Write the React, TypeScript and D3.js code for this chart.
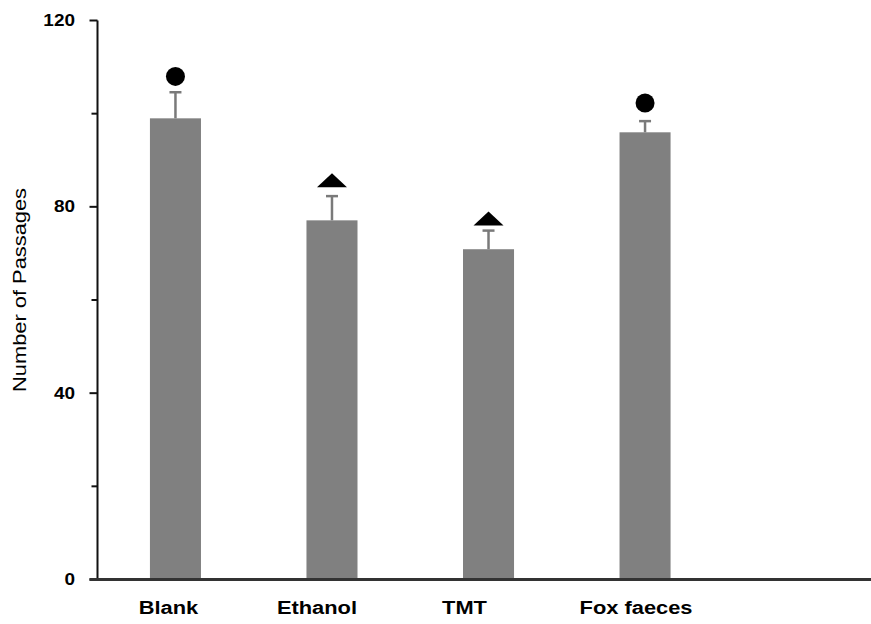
import React from "react";
import * as d3 from "d3";

const categories = ["Blank", "Ethanol", "TMT", "Fox faeces"];
const means = [99.0, 77.1, 70.9, 96.0];
const errors = [5.6, 5.2, 4.0, 2.4];
const markerTypes = ["circle", "triangle", "triangle", "circle"];
const markerValues = [108.0, 84.2, 76.0, 102.3];
const majorTicks = [0, 40, 80, 120];
const minorTicks = [20, 60, 100];

const W = 871;
const H = 624;
const FONT = "'Liberation Sans', Arial, sans-serif";
const STRETCH = 1.15;
const labelShift = [-7, -15, -24, -9];

export default function App() {
  const x = d3
    .scaleBand<string>()
    .domain(categories)
    .range([97.5, 723])
    .paddingInner(0.674)
    .paddingOuter(0.335);
  const y = d3.scaleLinear().domain([0, 120]).range([579.5, 20.5]);
  const axisX = 97.5;
  const bw = x.bandwidth();

  return (
    <svg
      width={W}
      height={H}
      style={{ position: "absolute", left: 0, top: 0, background: "#fff" }}
    >
      {/* bars */}
      {categories.map((c, i) => (
        <rect
          key={c}
          x={x(c)!}
          y={y(means[i])}
          width={bw}
          height={y(0) - y(means[i])}
          fill="#808080"
        />
      ))}
      {/* error bars */}
      {categories.map((c, i) => {
        const cx = x(c)! + bw / 2;
        const top = y(means[i] + errors[i]);
        return (
          <g key={"e" + c} stroke="#7a7a7a" strokeWidth={2.5}>
            <line x1={cx} x2={cx} y1={y(means[i])} y2={top} />
            <line x1={cx - 6} x2={cx + 6} y1={top} y2={top} />
          </g>
        );
      })}
      {/* markers */}
      {categories.map((c, i) => {
        const cx = x(c)! + bw / 2;
        const my = y(markerValues[i]);
        if (markerTypes[i] === "circle") {
          return <circle key={"m" + c} cx={cx} cy={my} r={9.5} fill="#000" />;
        }
        const tri = d3.line()([
          [cx - 15, my],
          [cx + 15, my],
          [cx, my - 14],
        ]);
        return <path key={"m" + c} d={tri + "Z"} fill="#000" />;
      })}
      {/* y axis */}
      <line x1={axisX} x2={axisX} y1={y(120)} y2={y(0)} stroke="#111" strokeWidth={2} />
      {majorTicks.map((t) => (
        <g key={"t" + t}>
          <line x1={axisX - 8} x2={axisX} y1={y(t)} y2={y(t)} stroke="#111" strokeWidth={2} />
          <text
            transform={`translate(75,${y(t)}) scale(${STRETCH},1)`}
            textAnchor="end"
            dominantBaseline="central"
            fontFamily={FONT}
            fontWeight="bold"
            fontSize={16.5}
            fill="#000"
          >
            {t}
          </text>
        </g>
      ))}
      {minorTicks.map((t) => (
        <line key={"mt" + t} x1={axisX - 6} x2={axisX} y1={y(t)} y2={y(t)} stroke="#111" strokeWidth={2} />
      ))}
      {/* x axis */}
      <line x1={axisX - 8} x2={W} y1={y(0)} y2={y(0)} stroke="#333" strokeWidth={3} />
      {categories.map((c, i) => (
        <text
          key={"l" + c}
          transform={`translate(${x(c)! + bw / 2 + labelShift[i]},614) scale(${STRETCH},1)`}
          textAnchor="middle"
          fontFamily={FONT}
          fontWeight="bold"
          fontSize={19}
          fill="#000"
        >
          {c}
        </text>
      ))}
      {/* y label */}
      <text
        transform={`translate(26,290) rotate(-90) scale(${STRETCH},1)`}
        textAnchor="middle"
        fontFamily={FONT}
        fontSize={19}
        fill="#000"
      >
        Number of Passages
      </text>
    </svg>
  );
}
